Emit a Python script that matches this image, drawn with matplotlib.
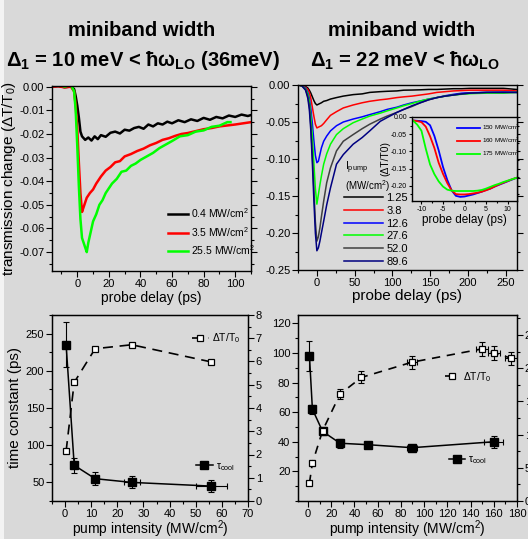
import matplotlib
matplotlib.use('Agg')
import matplotlib.pyplot as plt
from matplotlib.ticker import MultipleLocator, FormatStrFormatter
from matplotlib.patches import Rectangle

plt.rcParams['font.family'] = ['Liberation Sans', 'DejaVu Sans']
plt.rcParams['axes.unicode_minus'] = False
plt.rcParams['mathtext.fontset'] = 'custom'
plt.rcParams['mathtext.rm'] = 'Liberation Sans'
plt.rcParams['mathtext.it'] = 'Liberation Sans:italic'
plt.rcParams['mathtext.bf'] = 'Liberation Sans:bold'

# ---------------- data: top-left (Delta1 = 10 meV) ----------------
tl_labels = ['0.4 MW/cm$^2$', '3.5 MW/cm$^2$', '25.5 MW/cm$^2$']
tl_colors = ['black', '#ff0000', '#00ff00']
t_black = [-16, -12, -8, -4, -2, -1, 0, 1, 2, 3, 5, 7, 9, 11, 13, 15, 18, 21, 24, 27, 30, 33, 36, 39, 42,
           45, 48, 51, 54, 57, 60, 64, 68, 72, 76, 80, 84, 88, 92, 96, 100, 104, 108, 110]
v_black = [0.000, 0.0003, -0.0002, 0.0001, -0.001, -0.004, -0.008, -0.013, -0.019, -0.021,
           -0.0225, -0.0215, -0.0228, -0.021, -0.0222, -0.0205,
           -0.0212, -0.0195, -0.0190, -0.0198, -0.0182, -0.0186, -0.0175, -0.0170, -0.0178, -0.0160,
           -0.0168, -0.0155, -0.0160, -0.0148, -0.0155,
           -0.0142, -0.0150, -0.0138, -0.0145, -0.0132, -0.0140, -0.0128, -0.0134, -0.0122, -0.0128,
           -0.0118, -0.0124, -0.0120]
t_red = [-16, -12, -8, -4, -2, -1, 0, 1, 2, 3, 4, 6, 8, 10, 12, 15, 18, 21, 24, 27, 30,
         34, 38, 42, 46, 50, 54, 58, 62, 66, 70, 75, 80, 85, 90, 95, 100, 105, 110]
v_red = [0.0, 0.0002, -0.0003, 0.0, -0.002, -0.008, -0.018, -0.032, -0.045, -0.053,
         -0.051, -0.047, -0.045, -0.0435, -0.041, -0.038, -0.0355, -0.034, -0.032, -0.0315, -0.0295,
         -0.0285, -0.0272, -0.0262, -0.0248, -0.0238, -0.0225, -0.0218, -0.0208, -0.0200, -0.0196,
         -0.0188, -0.0180, -0.0175, -0.0168, -0.0164, -0.0160, -0.0155, -0.0150]
t_green = [-16, -12, -8, -4, -2, -1, 0, 1, 2, 3, 4, 5, 6, 7, 8, 9, 10, 12, 14, 16, 18, 20, 22, 25, 28,
           31, 34, 37, 40, 44, 48, 52, 56, 60, 65, 70, 75, 80, 85, 90, 95, 97]
v_green = [0.0005, 0.001, 0.0, 0.0008, -0.002, -0.010, -0.025, -0.042, -0.056, -0.064,
           -0.066, -0.068, -0.070, -0.066, -0.063, -0.060, -0.057,
           -0.054, -0.050, -0.048, -0.045, -0.043, -0.041, -0.039, -0.036,
           -0.0355, -0.0335, -0.0325, -0.031, -0.0295, -0.028, -0.026, -0.0245, -0.023,
           -0.021, -0.0205, -0.019, -0.0185, -0.017, -0.0165, -0.015, -0.0150]

# ---------------- data: top-right (Delta1 = 22 meV) ----------------
tr_labels = ['1.25', '3.8', '12.6', '27.6', '52.0', '89.6']
tr_colors = ['black', '#ff0000', '#0000ff', '#00ff00', '#404040', '#000080']
t_tr = [-25, -20, -15, -12, -10, -8, -6, -4, -2, 0, 2, 4, 6, 9, 13, 18, 26, 35, 48, 60, 70, 84, 93,
        106, 115, 126, 137, 148, 159, 170, 181, 192, 203, 225, 247, 264]
v_125 = [0, -0.001, -0.002, -0.004, -0.007, -0.011, -0.016, -0.021, -0.025, -0.027, -0.026, -0.025,
         -0.024, -0.022, -0.021, -0.019, -0.017, -0.015, -0.013, -0.012, -0.010, -0.009, -0.0085,
         -0.008, -0.007, -0.0068, -0.0065, -0.006, -0.006, -0.0055, -0.005, -0.005, -0.0045, -0.0045,
         -0.0045, -0.006]
v_38 = [0, -0.001, -0.003, -0.006, -0.010, -0.018, -0.030, -0.042, -0.053, -0.058, -0.057, -0.056,
        -0.055, -0.052, -0.047, -0.041, -0.036, -0.031, -0.027, -0.024, -0.022, -0.020, -0.019,
        -0.017, -0.016, -0.015, -0.0135, -0.012, -0.010, -0.009, -0.008, -0.0075, -0.007, -0.007,
        -0.007, -0.008]
v_126 = [0, -0.001, -0.004, -0.010, -0.018, -0.032, -0.052, -0.075, -0.095, -0.105, -0.103, -0.094,
         -0.085, -0.076, -0.069, -0.062, -0.055, -0.050, -0.046, -0.043, -0.040, -0.036, -0.033,
         -0.030, -0.027, -0.024, -0.0216, -0.019, -0.017, -0.0145, -0.0126, -0.011, -0.0104, -0.010,
         -0.0095, -0.010]
v_276 = [0, -0.001, -0.005, -0.012, -0.022, -0.042, -0.070, -0.105, -0.140, -0.161, -0.148, -0.135,
         -0.123, -0.107, -0.093, -0.080, -0.067, -0.059, -0.051, -0.046, -0.042, -0.038, -0.035,
         -0.031, -0.028, -0.025, -0.0216, -0.019, -0.017, -0.015, -0.0135, -0.0125, -0.0117, -0.011,
         -0.011, -0.010]
v_520 = [0, -0.001, -0.006, -0.015, -0.028, -0.055, -0.095, -0.140, -0.185, -0.211, -0.205, -0.193,
         -0.178, -0.157, -0.132, -0.112, -0.089, -0.076, -0.067, -0.059, -0.053, -0.046, -0.042,
         -0.037, -0.033, -0.029, -0.024, -0.020, -0.017, -0.015, -0.0135, -0.012, -0.011, -0.010,
         -0.010, -0.010]
v_896 = [0, -0.001, -0.007, -0.018, -0.033, -0.062, -0.105, -0.155, -0.200, -0.224, -0.220, -0.211,
         -0.200, -0.184, -0.162, -0.139, -0.107, -0.094, -0.080, -0.071, -0.062, -0.049, -0.044,
         -0.037, -0.033, -0.028, -0.024, -0.020, -0.017, -0.015, -0.0135, -0.012, -0.011, -0.010,
         -0.010, -0.010]
tr_series = [v_125, v_38, v_126, v_276, v_520, v_896]

# ---------------- data: inset ----------------
in_labels = ['150 MW/cm$^2$', '160 MW/cm$^2$', '175 MW/cm$^2$']
in_colors = ['#0000ff', '#ff0000', '#00ff00']
t_in = [-12, -11, -10, -9, -8, -7, -6, -5, -4, -3, -2, -1, 0, 1, 2, 3, 4, 5, 6, 7, 8, 9, 10, 11, 12]
v_150 = [-0.010, -0.011, -0.012, -0.014, -0.024, -0.055, -0.097, -0.145, -0.183, -0.213, -0.229,
         -0.232, -0.231, -0.228, -0.225, -0.221, -0.217, -0.212, -0.208, -0.202, -0.197, -0.192,
         -0.187, -0.182, -0.177]
v_160 = [-0.010, -0.012, -0.015, -0.028, -0.056, -0.090, -0.133, -0.165, -0.192, -0.213, -0.224,
         -0.225, -0.225, -0.224, -0.222, -0.220, -0.217, -0.213, -0.208, -0.202, -0.196, -0.191,
         -0.186, -0.181, -0.177]
v_175 = [-0.010, -0.022, -0.040, -0.092, -0.138, -0.166, -0.187, -0.202, -0.211, -0.214, -0.215,
         -0.215, -0.215, -0.215, -0.215, -0.214, -0.212, -0.208, -0.203, -0.198, -0.194, -0.189,
         -0.185, -0.181, -0.177]
in_series = [v_150, v_160, v_175]

# ---------------- data: bottom-left ----------------
bl_I = [0.4, 3.5, 11.5, 25.5, 56]
bl_tau = [235, 73, 55, 50, 45]
bl_tau_yerr = [30, 10, 9, 8, 8]
bl_tau_xerr = [0, 0, 1, 3, 6]
bl_dT = [2.15, 5.1, 6.55, 6.72, 5.98]

# ---------------- data: bottom-right ----------------
br_I_tau = [1.25, 3.8, 12.6, 27.6, 52, 89.6, 160]
br_tau = [98, 62, 47, 39, 38, 36, 40]
br_tau_yerr = [10, 3, 2, 3, 2, 2, 4]
br_tau_xerr = [0, 0, 0, 0, 0, 4, 8]
br_I_dT = [1.25, 3.8, 12.6, 27.6, 46, 89.6, 150, 160, 175]
br_dT = [2.7, 5.7, 10.6, 16.1, 18.6, 20.9, 22.9, 22.3, 21.5]
br_dT_yerr = [0.3, 0.4, 0.6, 0.8, 0.9, 1.0, 1.1, 1.1, 1.0]
br_dT_xerr = [0, 0, 0, 0, 0, 4, 5, 5, 5]

# ---------------- figure ----------------
BG = '#d9d9d9'
W, H = 528, 539
fig = plt.figure(figsize=(W / 100, H / 100), dpi=100, facecolor=BG)
fig.patches.append(Rectangle((0, 0), 4 / W, 1, transform=fig.transFigure,
                             facecolor='#f3f3f3', edgecolor='none', zorder=-1))


def rect(l, t, r, b):
    return [l / W, 1 - b / H, (r - l) / W, (b - t) / H]


def style(ax, fs=8, mirror=True):
    ax.set_facecolor(BG)
    for s in ax.spines.values():
        s.set_linewidth(1.0)
    ax.tick_params(which='both', direction='out', labelsize=fs, pad=1.5, width=0.8)
    ax.tick_params(which='major', length=4)
    ax.tick_params(which='minor', length=2.5)
    if mirror:
        ax.tick_params(which='both', top=False, right=True, labelright=False)


# ---- top-left ----
ax1 = fig.add_axes(rect(52, 86, 251, 271))
style(ax1)
for t, v, c, lab in zip([t_black, t_red, t_green], [v_black, v_red, v_green], tl_colors, tl_labels):
    ax1.plot(t, v, color=c, lw=1.8, label=lab)
ax1.set_xlim(-16, 110)
ax1.set_ylim(-0.078, 0.0003)
ax1.xaxis.set_major_locator(MultipleLocator(20))
ax1.xaxis.set_minor_locator(MultipleLocator(10))
ax1.yaxis.set_major_locator(MultipleLocator(0.01))
ax1.yaxis.set_minor_locator(MultipleLocator(0.005))
ax1.yaxis.set_major_formatter(FormatStrFormatter('%.2f'))
ax1.set_xlabel('probe delay (ps)', fontsize=10, labelpad=2)
ax1.set_ylabel('transmission change (ΔT/T$_0$)', fontsize=11, labelpad=1)
ax1.legend(loc='upper left', bbox_to_anchor=(0.585, 0.35), frameon=False, fontsize=7.5,
           handlelength=1.9, handletextpad=0.3, labelspacing=0.45, borderpad=0, borderaxespad=0)

# ---- top-right ----
ax2 = fig.add_axes(rect(298, 85, 517, 270))
style(ax2)
for v, c, lab in zip(tr_series, tr_colors, tr_labels):
    ax2.plot(t_tr, v, color=c, lw=1.1, label=lab)
ax2.set_xlim(-25, 265)
ax2.set_ylim(-0.25, 0.0)
ax2.xaxis.set_major_locator(MultipleLocator(50))
ax2.xaxis.set_minor_locator(MultipleLocator(25))
ax2.yaxis.set_major_locator(MultipleLocator(0.05))
ax2.yaxis.set_minor_locator(MultipleLocator(0.025))
ax2.yaxis.set_major_formatter(FormatStrFormatter('%.2f'))
ax2.set_xlabel('probe delay (ps)', fontsize=11, labelpad=1)
ax2.legend(loc='upper left', bbox_to_anchor=(0.21, 0.415), frameon=False, fontsize=8,
           handlelength=3.5, handletextpad=0.3, labelspacing=0.24, borderpad=0, borderaxespad=0)
ax2.text(0.215, 0.555, 'I$_{\\rm pump}$', transform=ax2.transAxes, fontsize=7.5, va='center')
ax2.text(0.215, 0.455, '(MW/cm$^2$)', transform=ax2.transAxes, fontsize=7, va='center')

# ---- inset ----
axi = fig.add_axes(rect(412, 117, 517, 201))
style(axi, fs=5, mirror=False)
axi.tick_params(which='major', length=2.5, pad=1)
axi.tick_params(which='minor', length=1.5)
axi.tick_params(which='both', right=True, direction='out')
for v, c, lab in zip(in_series, in_colors, in_labels):
    axi.plot(t_in, v, color=c, lw=1.3, label=lab)
axi.set_xlim(-12.2, 12.2)
axi.set_ylim(-0.244, 0.0)
axi.xaxis.set_major_locator(MultipleLocator(5))
axi.xaxis.set_minor_locator(MultipleLocator(2.5))
axi.set_yticks([0.0, -0.05, -0.10, -0.15, -0.20])
axi.yaxis.set_minor_locator(MultipleLocator(0.025))
axi.yaxis.set_major_formatter(FormatStrFormatter('%.2f'))
axi.set_xlabel('probe delay (ps)', fontsize=8.5, labelpad=1)
axi.set_ylabel('(ΔT/T0)', fontsize=7.5, labelpad=0.5)
axi.legend(loc='upper left', bbox_to_anchor=(0.43, 0.93), frameon=False, fontsize=4.5,
           handlelength=3.6, handletextpad=0.3, labelspacing=0.6, borderpad=0, borderaxespad=0)

# ---- bottom-left ----
ax3 = fig.add_axes(rect(52, 315, 248, 501))
style(ax3, mirror=False)
ax3b = ax3.twinx()
ax3b.tick_params(which='both', direction='out', labelsize=8, pad=1.5, width=0.8)
ax3b.tick_params(which='major', length=4)
ax3b.tick_params(which='minor', length=2.5)
l_dT, = ax3b.plot(bl_I, bl_dT, color='black', lw=1.2, dashes=(6, 4), marker='s', ms=5,
                  mfc='white', mec='black', mew=0.9, label='ΔT/T$_0$')
ax3.errorbar(bl_I, bl_tau, yerr=bl_tau_yerr, xerr=bl_tau_xerr, fmt='none', ecolor='black',
             elinewidth=0.8, capsize=2, capthick=0.8)
l_tau, = ax3.plot(bl_I, bl_tau, color='black', lw=1.1, marker='s', ms=5.5, mfc='black', mec='black',
                  label='τ$_{\\rm cool}$')
ax3.set_xlim(-5, 70)
ax3.set_ylim(25, 275)
ax3b.set_ylim(0, 8)
ax3.xaxis.set_major_locator(MultipleLocator(10))
ax3.xaxis.set_minor_locator(MultipleLocator(5))
ax3.yaxis.set_major_locator(MultipleLocator(50))
ax3.yaxis.set_minor_locator(MultipleLocator(25))
ax3b.yaxis.set_major_locator(MultipleLocator(1))
ax3b.yaxis.set_minor_locator(MultipleLocator(0.5))
ax3.set_xlabel('pump intensity (MW/cm$^2$)', fontsize=10, labelpad=0)
ax3.set_ylabel('time constant (ps)', fontsize=11, labelpad=3)
ax3b.legend(handles=[l_dT], loc='center left', bbox_to_anchor=(0.715, 0.876), frameon=False,
            fontsize=7.5, handlelength=1.6, handletextpad=0.3, numpoints=1, borderpad=0, borderaxespad=0)
ax3.legend(handles=[l_tau], loc='center left', bbox_to_anchor=(0.735, 0.183), frameon=False,
           fontsize=7.5, handlelength=1.6, handletextpad=0.3, numpoints=1, borderpad=0, borderaxespad=0)

# ---- bottom-right ----
ax4 = fig.add_axes(rect(298, 315, 517, 501))
style(ax4, mirror=False)
ax4b = ax4.twinx()
ax4b.tick_params(which='both', direction='out', labelsize=8, pad=1.5, width=0.8)
ax4b.tick_params(which='major', length=4)
ax4b.tick_params(which='minor', length=2.5)
ax4b.errorbar(br_I_dT, br_dT, yerr=br_dT_yerr, xerr=br_dT_xerr, fmt='none', ecolor='black',
              elinewidth=0.8, capsize=2, capthick=0.8)
l_dT2, = ax4b.plot(br_I_dT, br_dT, color='black', lw=1.2, dashes=(5, 4), marker='s', ms=5,
                   mfc='white', mec='black', mew=0.9, label='ΔT/T$_0$')
ax4.errorbar(br_I_tau, br_tau, yerr=br_tau_yerr, xerr=br_tau_xerr, fmt='none', ecolor='black',
             elinewidth=0.8, capsize=2, capthick=0.8)
l_tau2, = ax4.plot(br_I_tau, br_tau, color='black', lw=1.1, marker='s', ms=5.5, mfc='black',
                   mec='black', label='τ$_{\\rm cool}$')
ax4.set_xlim(-8.6, 180)
ax4.set_ylim(0, 125.6)
ax4b.set_ylim(0, 28)
ax4.xaxis.set_major_locator(MultipleLocator(20))
ax4.xaxis.set_minor_locator(MultipleLocator(10))
ax4.set_yticks([20, 40, 60, 80, 100, 120])
ax4.yaxis.set_minor_locator(MultipleLocator(10))
ax4b.yaxis.set_major_locator(MultipleLocator(5))
ax4b.yaxis.set_minor_locator(MultipleLocator(2.5))
ax4.set_xlabel('pump intensity (MW/cm$^2$)', fontsize=10, labelpad=0)
ax4b.legend(handles=[l_dT2], loc='center left', bbox_to_anchor=(0.672, 0.668), frameon=False,
            fontsize=7.5, handlelength=1.3, handletextpad=0.4, numpoints=1, borderpad=0, borderaxespad=0)
ax4.legend(handles=[l_tau2], loc='center left', bbox_to_anchor=(0.69, 0.219), frameon=False,
           fontsize=7.5, handlelength=1.5, handletextpad=0.3, numpoints=1, borderpad=0, borderaxespad=0)

# ---- titles ----
tkw = dict(fontsize=14.5, fontweight='bold', ha='center', va='center')
fig.text(142 / W, 1 - 31 / H, 'miniband width', **tkw)
fig.text(143 / W, 1 - 61 / H, 'Δ$_\\mathbf{1}$ = 10 meV < ħω$_\\mathbf{LO}$ (36meV)', **tkw)
fig.text(402 / W, 1 - 31 / H, 'miniband width', **tkw)
fig.text(405 / W, 1 - 61 / H, 'Δ$_\\mathbf{1}$ = 22 meV < ħω$_\\mathbf{LO}$', **tkw)

fig.savefig('out.png', dpi=100, facecolor=BG)
